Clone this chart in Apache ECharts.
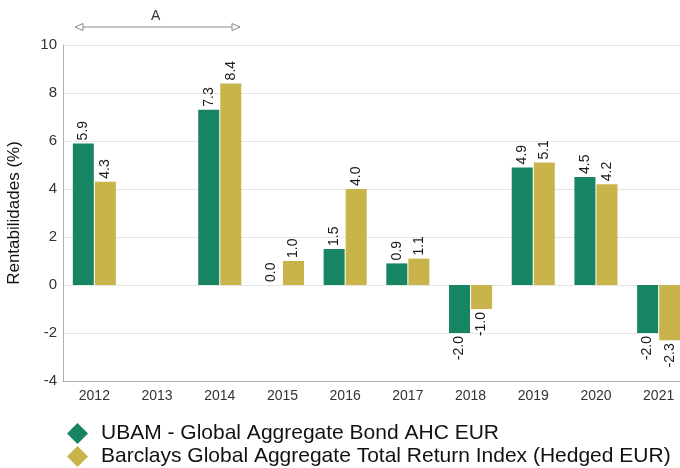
<!DOCTYPE html>
<html>
<head>
<meta charset="utf-8">
<script src="https://cdn.jsdelivr.net/npm/echarts@6/dist/echarts.min.js"></script>
<style>
  html, body { margin: 0; padding: 0; background: #fff; }
  #main { width: 680px; height: 468px; }
</style>
</head>
<body>
<div id="main"></div>
<script>
const years = ['2012', '2013', '2014', '2015', '2016', '2017', '2018', '2019', '2020', '2021']
const fund = [5.9, null, 7.3, 0.0, 1.5, 0.9, -2.0, 4.9, 4.5, -2.0]
const index = [4.3, null, 8.4, 1.0, 4.0, 1.1, -1.0, 5.1, 4.2, -2.3]
const yTicks = { min: -4, max: 10, step: 2 }
const fundName = 'UBAM - Global Aggregate Bond AHC EUR'
const indexName = 'Barclays Global Aggregate Total Return Index (Hedged EUR)'

const fontFamily = '"Liberation Sans", Arial, sans-serif'
const green = '#178563'
const gold = '#c8b44a'

// labels sit above positive bars and below negative ones, read bottom-to-top
function withLabels(values) {
  return values.map(v => {
    if (v === null) return null
    let neg = v < 0
    return {
      value: v,
      label: {
        show: true,
        position: neg ? 'bottom' : 'top',
        rotate: 90,
        align: neg ? 'right' : 'left',
        verticalAlign: 'middle',
        distance: 3,
        formatter: v.toFixed(1),
        color: '#1a1a1a',
        fontSize: 14,
        fontFamily: fontFamily
      }
    }
  })
}

function legendFor(name, top) {
  return {
    left: 62,
    top: top,
    itemWidth: 21,
    itemHeight: 21,
    icon: 'diamond',
    textStyle: { fontSize: 21, color: '#111', fontFamily: fontFamily, padding: [0, 0, 0, 8] },
    data: [name]
  }
}

var myChart = echarts.init(document.getElementById('main'))

var option = {
  animation: false,
  textStyle: { fontFamily: fontFamily },
  grid: { left: 63, right: -10, top: 45, bottom: 87, containLabel: false, outerBoundsMode: 'none' },
  legend: [legendFor(fundName, 418), legendFor(indexName, 441)],
  xAxis: {
    type: 'category',
    data: years,
    axisLine: { onZero: false, lineStyle: { color: '#b0b0b0' } },
    axisTick: { show: false },
    axisLabel: { color: '#333', fontSize: 14, margin: 8 }
  },
  yAxis: {
    type: 'value',
    min: yTicks.min,
    max: yTicks.max,
    interval: yTicks.step,
    name: 'Rentabilidades (%)',
    nameLocation: 'middle',
    nameGap: 40,
    nameTextStyle: { fontSize: 17, color: '#111' },
    axisLine: { show: true, lineStyle: { color: '#b0b0b0' } },
    axisTick: { show: false },
    axisLabel: { color: '#333', fontSize: 15, margin: 6 },
    splitLine: { lineStyle: { color: '#e4e4e4' } }
  },
  graphic: [
    { type: 'line', shape: { x1: 77, y1: 27, x2: 238, y2: 27 }, style: { stroke: '#888', lineWidth: 1 } },
    { type: 'polygon', shape: { points: [[75, 27], [83, 23.5], [83, 30.5]] }, style: { fill: '#fff', stroke: '#888', lineWidth: 1 } },
    { type: 'polygon', shape: { points: [[240, 27], [232, 23.5], [232, 30.5]] }, style: { fill: '#fff', stroke: '#888', lineWidth: 1 } },
    { type: 'text', left: 151, top: 9, style: { text: 'A', fontSize: 14, fill: '#333', fontFamily: fontFamily } }
  ],
  series: [
    {
      name: fundName,
      type: 'bar',
      data: withLabels(fund),
      barWidth: 21,
      barGap: '5%',
      itemStyle: { color: green }
    },
    {
      name: indexName,
      type: 'bar',
      data: withLabels(index),
      barWidth: 21,
      itemStyle: { color: gold }
    }
  ]
}

myChart.setOption(option)
</script>
</body>
</html>
